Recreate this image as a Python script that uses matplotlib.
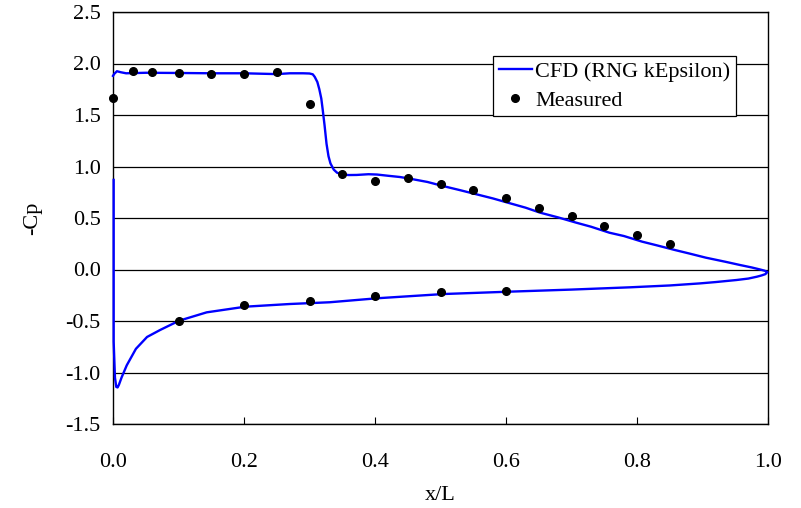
import numpy as np
import matplotlib.pyplot as plt

plt.rcParams['font.family'] = 'Liberation Serif'
plt.rcParams['font.size'] = 16

# CFD surface pressure, upper surface from leading edge to trailing edge
x_upper = [0.0, 0.002, 0.006, 0.012, 0.02, 0.05, 0.1, 0.15, 0.2, 0.25, 0.27, 0.29,
           0.30, 0.305, 0.308, 0.312, 0.315, 0.318, 0.320, 0.323, 0.326, 0.329,
           0.332, 0.337, 0.342, 0.350, 0.36, 0.372, 0.39, 0.403, 0.42, 0.438,
           0.453, 0.48, 0.504, 0.53, 0.555, 0.58, 0.606, 0.63, 0.652, 0.68,
           0.707, 0.73, 0.758, 0.78, 0.808, 0.83, 0.858, 0.88, 0.905, 0.935,
           0.957, 0.975, 0.988, 0.995, 0.999]
cp_upper = [1.88, 1.90, 1.925, 1.915, 1.905, 1.91, 1.908, 1.905, 1.905, 1.897, 1.905,
            1.905, 1.903, 1.895, 1.87, 1.82, 1.75, 1.66, 1.56, 1.40, 1.22, 1.10,
            1.03, 0.97, 0.94, 0.922, 0.917, 0.918, 0.925, 0.922, 0.91, 0.898,
            0.882, 0.85, 0.81, 0.77, 0.73, 0.69, 0.643, 0.60, 0.552, 0.505,
            0.455, 0.415, 0.357, 0.325, 0.27, 0.235, 0.189, 0.155, 0.115, 0.075,
            0.044, 0.02, 0.0, -0.012, -0.025]

# lower surface from trailing edge back to leading edge
x_lower = [0.996, 0.99, 0.983, 0.97, 0.952, 0.92, 0.896, 0.85, 0.789, 0.7, 0.606,
           0.505, 0.404, 0.331, 0.27, 0.202, 0.143, 0.101, 0.072, 0.052, 0.035,
           0.021, 0.013, 0.009, 0.007, 0.005, 0.003, 0.001, 0.001]
cp_lower = [-0.045, -0.058, -0.07, -0.088, -0.102, -0.122, -0.135, -0.155, -0.173,
            -0.195, -0.215, -0.238, -0.279, -0.318, -0.335, -0.361, -0.416, -0.497,
            -0.587, -0.655, -0.77, -0.93, -1.05, -1.12, -1.145, -1.14, -1.05,
            -0.7, 0.87]

# measured data
x_meas_up = [0.0, 0.03, 0.06, 0.1, 0.15, 0.2, 0.25, 0.3, 0.35, 0.4, 0.45, 0.5,
             0.55, 0.6, 0.65, 0.7, 0.75, 0.8, 0.85]
cp_meas_up = [1.668, 1.927, 1.915, 1.911, 1.895, 1.895, 1.92, 1.61, 0.924, 0.862,
              0.885, 0.83, 0.772, 0.697, 0.594, 0.519, 0.425, 0.338, 0.25]
x_meas_lo = [0.1, 0.2, 0.3, 0.4, 0.5, 0.6]
cp_meas_lo = [-0.5, -0.345, -0.303, -0.257, -0.221, -0.206]

x_cfd = np.array(x_upper + x_lower)
cp_cfd = np.array(cp_upper + cp_lower)

fig = plt.figure(figsize=(8.01, 5.08), dpi=100)
ax = fig.add_axes([113/801, 1 - 424/508, 655/801, 412/508])

ax.plot(x_cfd, cp_cfd, color='#0000ff', lw=1.7, label='CFD (RNG kEpsilon)',
        clip_on=False, zorder=3)
ax.plot(x_meas_up + x_meas_lo, cp_meas_up + cp_meas_lo, 'o', color='black',
        ms=5.5, label='Measured', clip_on=False, zorder=4)

ax.set_xlim(0, 1)
ax.set_ylim(-1.5, 2.5)
ax.set_xticks(np.arange(0, 1.01, 0.2))
ax.set_yticks(np.arange(-1.5, 2.51, 0.5))
ax.set_xticklabels(['%.1f' % v for v in np.arange(0, 1.01, 0.2)])
ax.set_yticklabels(['%.1f' % v for v in np.arange(-1.5, 2.51, 0.5)])
ax.tick_params(axis='x', direction='in', length=5, pad=21)
ax.tick_params(axis='y', length=0, pad=9)
ax.yaxis.grid(True, color='black', lw=0.9)
ax.set_axisbelow(True)
for s in ax.spines.values():
    s.set_linewidth(1.0)

ax.set_xlabel('x/L', fontsize=16, labelpad=10)
ax.set_ylabel('-Cp', fontsize=16, labelpad=17)

leg = ax.legend(loc='upper right', bbox_to_anchor=(0.951, 0.893), borderaxespad=0,
                fancybox=False, framealpha=1, edgecolor='black', handlelength=1.5,
                handletextpad=0.15, borderpad=0.25, labelspacing=0.35, fontsize=16,
                numpoints=1)
leg.get_frame().set_linewidth(0.9)

fig.savefig('out.png', dpi=100)
